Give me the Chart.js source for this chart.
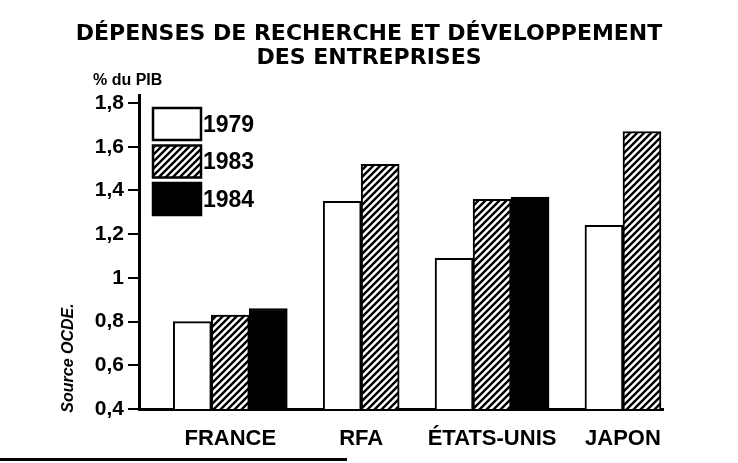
<!DOCTYPE html>
<html>
<head>
<meta charset="utf-8">
<script src="https://cdn.jsdelivr.net/npm/chart.js@4"></script>
<style>
  html, body { margin: 0; padding: 0; background: #fff; }
  #wrap { position: relative; width: 738px; height: 463px; }
  #rule { position: absolute; left: 0; top: 458px; width: 347px; height: 3px; background: #000; }
</style>
</head>
<body>
<div id="wrap"><canvas id="chart"></canvas><div id="rule"></div></div>
<script>
const countries = ['FRANCE', 'RFA', 'ÉTATS-UNIS', 'JAPON'];
const years = ['1979', '1983', '1984'];
const values1979 = [0.80, 1.35, 1.09, 1.24];
const values1983 = [0.83, 1.52, 1.36, 1.67];
const values1984 = [0.86, null, 1.37, null];
const yTicks = [0.4, 0.6, 0.8, 1.0, 1.2, 1.4, 1.6, 1.8];
const titleLines = ['DÉPENSES DE RECHERCHE ET DÉVELOPPEMENT', 'DES ENTREPRISES'];
const unitLabel = '% du PIB';
const sourceLabel = 'Source OCDE.';

// diagonal hatch for the 1983 bars
function makeHatch() {
  const c = document.createElement('canvas');
  c.width = 7; c.height = 7;
  const g = c.getContext('2d');
  g.fillStyle = '#fff';
  g.fillRect(0, 0, 7, 7);
  g.strokeStyle = '#000';
  g.lineWidth = 2.4;
  g.beginPath();
  g.moveTo(-1, 8); g.lineTo(8, -1);
  g.moveTo(-1, 1); g.lineTo(1, -1);
  g.moveTo(6, 8); g.lineTo(8, 6);
  g.stroke();
  return g.createPattern(c, 'repeat');
}

const toPoints = arr => arr.map((v, i) => ({ x: i, y: v }));
const boldFont = (size, family) => ({ family: family || 'Liberation Sans', weight: 'bold', size: size });

const barCommon = {
  borderColor: '#000',
  borderWidth: 2,
  barThickness: 38,
  skipNull: true
};

// unit label, source note and legend boxes
const decorations = {
  id: 'decorations',
  afterDraw(chart) {
    const { ctx, chartArea } = chart;
    ctx.save();
    ctx.fillStyle = '#000';
    ctx.textBaseline = 'middle';
    ctx.textAlign = 'left';
    ctx.font = 'bold 16px "Liberation Sans"';
    ctx.fillText(unitLabel, 93, 81);

    chart.data.datasets.forEach((ds, i) => {
      const x = chartArea.left + 14;
      const y = chartArea.top + 13 + i * 37.5;
      ctx.fillStyle = ds.backgroundColor;
      ctx.fillRect(x, y, 48, 32);
      ctx.lineWidth = 2.5;
      ctx.strokeStyle = '#000';
      ctx.strokeRect(x, y, 48, 32);
      ctx.fillStyle = '#000';
      ctx.font = 'bold 23px "Liberation Sans"';
      ctx.fillText(ds.label, x + 50, y + 17.5);
    });

    ctx.translate(69, 358);
    ctx.rotate(-Math.PI / 2);
    ctx.textAlign = 'center';
    ctx.font = 'italic bold 16px "Liberation Sans"';
    ctx.fillText(sourceLabel, 0, 0);
    ctx.restore();
  }
};

const hatch = makeHatch();

new Chart(document.getElementById('chart'), {
  type: 'bar',
  data: {
    datasets: [
      { ...barCommon, label: years[0], data: toPoints(values1979), backgroundColor: '#fff' },
      { ...barCommon, label: years[1], data: toPoints(values1983), backgroundColor: hatch },
      { ...barCommon, label: years[2], data: toPoints(values1984), backgroundColor: '#000' }
    ]
  },
  options: {
    responsive: true,
    maintainAspectRatio: false,
    animation: false,
    layout: { padding: 0 },
    plugins: {
      legend: { display: false },
      tooltip: { enabled: false },
      title: {
        display: true,
        text: titleLines,
        color: '#000',
        font: { family: 'DejaVu Sans', weight: 'bold', size: 22, lineHeight: 24 / 22 },
        padding: { top: 22, bottom: 25 }
      }
    },
    scales: {
      x: {
        type: 'linear',
        min: -0.6975,
        max: 3.306,
        bounds: 'data',
        offset: false,
        grid: { display: false, offset: false },
        border: { display: true, color: '#000', width: 3 },
        ticks: {
          padding: 9,
          color: '#000',
          font: boldFont(22),
          autoSkip: false,
          maxRotation: 0,
          minRotation: 0,
          callback: v => countries[v]
        },
        afterBuildTicks: s => { s.ticks = countries.map((c, i) => ({ value: i })); },
        afterFit: s => { s.height = 54; }
      },
      y: {
        min: 0.4,
        max: 1.837,
        bounds: 'data',
        grid: { display: true, drawOnChartArea: false, drawTicks: true, tickLength: 11, color: '#000', lineWidth: 2 },
        border: { display: true, color: '#000', width: 3 },
        ticks: {
          padding: 4,
          color: '#000',
          font: boldFont(21),
          callback: v => String(+v.toFixed(1)).replace('.', ',')
        },
        afterBuildTicks: s => { s.ticks = yTicks.map(v => ({ value: v })); },
        afterFit: s => { s.width = 139; }
      },
      y2: {
        position: 'right',
        grid: { display: false },
        border: { display: false },
        ticks: { display: false },
        afterFit: s => { s.width = 75; }
      }
    }
  },
  plugins: [decorations]
});
</script>
</body>
</html>
